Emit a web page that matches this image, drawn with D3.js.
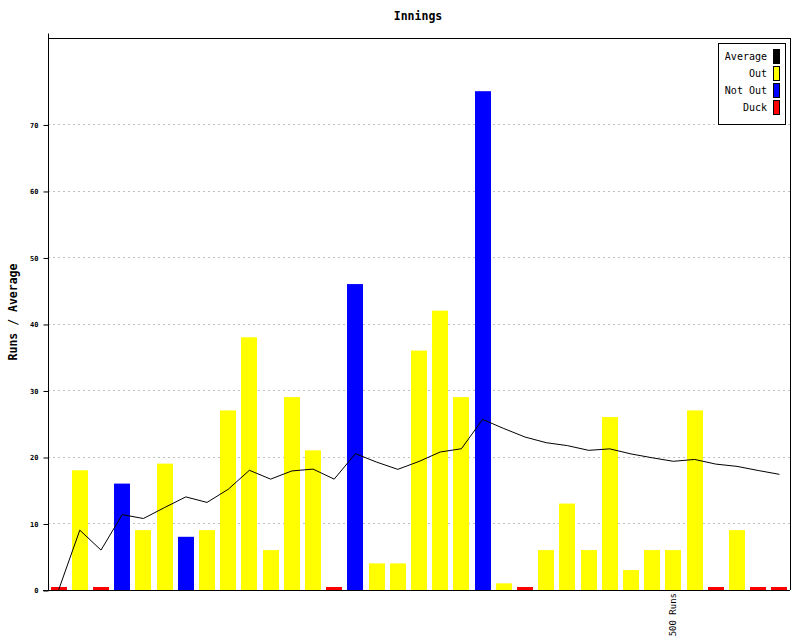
<!DOCTYPE html>
<html>
<head>
<meta charset="utf-8">
<script src="https://cdn.jsdelivr.net/npm/d3@7/dist/d3.min.js"></script>
<style>
  html, body { margin: 0; padding: 0; background: #fff; }
  svg { display: block; }
  text { font-family: "DejaVu Sans Mono", "Liberation Mono", monospace; }
</style>
</head>
<body>
<svg id="chart" width="800" height="640"></svg>
<script>
// ---- data ----
const innings = d3.range(1, 36);
const runs = [0,18,0,16,9,19,8,9,27,38,6,29,21,0,46,4,4,36,42,29,75,1,0,6,13,6,26,3,6,6,27,0,9,0,0];
const status = ["Duck","Out","Duck","Not Out","Out","Out","Not Out","Out","Out","Out","Out","Out","Out","Duck","Not Out","Out","Out","Out","Out","Out","Not Out","Out","Duck","Out","Out","Out","Out","Out","Out","Out","Out","Duck","Out","Duck","Duck"];
const average = [0,9,6,11.33,10.75,12.4,14,13.17,15.14,18,16.67,17.9,18.18,16.67,20.5,19.23,18.14,19.33,20.75,21.24,25.65,24.28,23,22.15,21.71,21,21.22,20.46,19.88,19.35,19.63,18.93,18.59,17.97,17.39];
const yTicks = [0,10,20,30,40,50,60,70];
const legendLabels = ["Average","Out","Not Out","Duck"];
const milestones = [{inning: 30, label: "500 Runs"}];
const title = "Innings";
const yLabel = "Runs / Average";

// ---- styles ----
const colors = {"Average":"#000000","Out":"#ffff00","Not Out":"#0000ff","Duck":"#ff0000"};
const duckShown = 0.45;

const svg = d3.select("#chart");
const L = 48, R = 790, T = 38, B = 590;

const x = d3.scaleBand().domain(innings).range([L, R]).paddingInner(0.25).paddingOuter(0.125);
const y = d3.scaleLinear().domain([0, 83]).range([B, T]);

// gridlines
svg.append("g").selectAll("line").data(yTicks.filter(d => d > 0)).join("line")
  .attr("x1", L).attr("x2", R)
  .attr("y1", d => Math.round(y(d)) + 0.5).attr("y2", d => Math.round(y(d)) + 0.5)
  .attr("stroke", "#c0c0c0").attr("stroke-dasharray", "2,3").attr("stroke-width", 1);

// bars
svg.append("g").selectAll("rect").data(innings).join("rect")
  .attr("x", (d) => Math.round(x(d)))
  .attr("width", Math.round(x.bandwidth()))
  .attr("y", (d, i) => y(status[i] === "Duck" ? duckShown : runs[i]))
  .attr("height", (d, i) => B - y(status[i] === "Duck" ? duckShown : runs[i]))
  .attr("fill", (d, i) => colors[status[i]]);

// average line
const line = d3.line().x((d, i) => x(innings[i]) + x.bandwidth() / 2).y(d => y(d));
svg.append("path").datum(average).attr("d", line)
  .attr("fill", "none").attr("stroke", "#000").attr("stroke-width", 1);

// frame
svg.append("line").attr("x1", L).attr("x2", R + 0.5).attr("y1", T + 0.5).attr("y2", T + 0.5).attr("stroke", "#000");
svg.append("line").attr("x1", R + 0.5).attr("x2", R + 0.5).attr("y1", T).attr("y2", B).attr("stroke", "#000");

// y axis
const yAxis = d3.axisLeft(y).tickValues(yTicks).tickSize(5).tickPadding(5);
const gy = svg.append("g").attr("transform", `translate(${L + 0.5},0.5)`).call(yAxis);
gy.select(".domain").attr("d", `M0,${T - 5}V${B}`).attr("stroke", "#000");
gy.selectAll(".tick text").attr("font-size", 7).attr("font-family", "DejaVu Sans Mono").attr("font-weight", "bold");
gy.selectAll(".tick line").attr("stroke", "#000");

// x axis line
svg.append("line").attr("x1", L - 5).attr("x2", R).attr("y1", B + 0.5).attr("y2", B + 0.5).attr("stroke", "#000");

// milestones
svg.append("g").selectAll("text").data(milestones).join("text")
  .attr("transform", d => `translate(${x(d.inning) + x.bandwidth() / 2 + 3},${B + 3}) rotate(-90)`)
  .attr("text-anchor", "end").attr("font-size", 9).text(d => d.label);

// title
svg.append("text").attr("x", 418).attr("y", 20).attr("text-anchor", "middle")
  .attr("font-size", 11.5).attr("font-weight", "bold").text(title);

// y label
svg.append("text").attr("transform", "translate(17,312) rotate(-90)").attr("text-anchor", "middle")
  .attr("font-size", 11.5).attr("font-weight", "bold").text(yLabel);

// legend
const lg = svg.append("g");
lg.append("rect").attr("x", 718.5).attr("y", 43.5).attr("width", 67).attr("height", 81)
  .attr("fill", "#fff").attr("stroke", "#000");
legendLabels.forEach((k, i) => {
  lg.append("text").attr("x", 767).attr("y", 60 + i * 17).attr("text-anchor", "end")
    .attr("font-size", 10).text(k);
  lg.append("rect").attr("x", 773.5).attr("y", 49.5 + i * 17).attr("width", 6).attr("height", 14)
    .attr("fill", colors[k]).attr("stroke", "#000");
});
</script>
</body>
</html>
